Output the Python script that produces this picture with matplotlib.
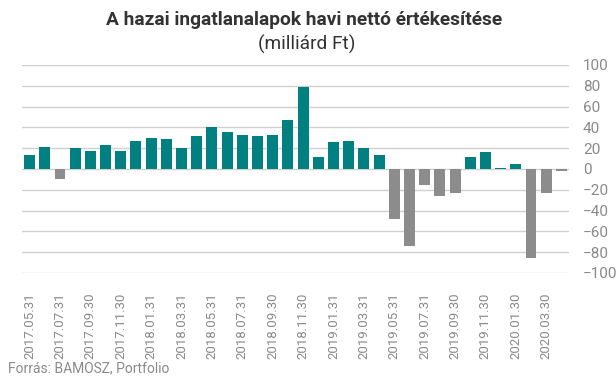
import matplotlib
matplotlib.use("Agg")
import matplotlib.pyplot as plt
import numpy as np

months = ["2017.05.31","2017.06.30","2017.07.31","2017.08.31","2017.09.30","2017.10.31","2017.11.30","2017.12.31",
          "2018.01.31","2018.02.28","2018.03.31","2018.04.30","2018.05.31","2018.06.30","2018.07.31","2018.08.31",
          "2018.09.30","2018.10.31","2018.11.30","2018.12.31","2019.01.31","2019.02.28","2019.03.31","2019.04.30",
          "2019.05.31","2019.06.30","2019.07.31","2019.08.31","2019.09.30","2019.10.31","2019.11.30","2019.12.31",
          "2020.01.30","2020.02.29","2020.03.30","2020.04.30"]
values = [13, 21, -10, 20, 17, 23, 17, 27, 30, 29, 20, 32, 40, 36, 33, 32, 33, 47, 79,
          12, 26, 27, 20, 13, -48, -74, -15, -26, -23, 12, 16, 0.5, 5, -86, -23, -2]

TEAL = "#008080"
GREY = "#8c8c8c"

plt.rcParams['font.family'] = ['Roboto', 'DejaVu Sans']

fig = plt.figure(figsize=(6.16, 3.78), dpi=100)
ax = fig.add_axes([22/616, 1-273/378, (569-22)/616, (273-65)/378])

x = np.arange(len(values))
colors = [TEAL if v >= 0 else GREY for v in values]
ax.bar(x, values, width=0.72, color=colors, zorder=3)

ax.set_ylim(-100, 100)
ax.set_xlim(-0.5, len(values) - 0.5)
ax.set_yticks(np.arange(-100, 101, 20))
ax.yaxis.tick_right()
ax.grid(axis='y', color='#d0d0d0', linewidth=1, zorder=0)
ax.tick_params(axis='y', length=0, labelsize=11, labelcolor='#8a8a8a', pad=10)
ax.set_xticks(x[::2])
ax.set_xticklabels(months[::2], rotation=90, fontsize=9.5, color='#8a8a8a')
ax.tick_params(axis='x', length=0, pad=14)
for s in ax.spines.values():
    s.set_visible(False)

fig.text(304/616, 1-20/378, "A hazai ingatlanalapok havi nettó értékesítése", ha='center', va='center',
         fontsize=13.8, fontweight='bold', color='#333333')
fig.text(307/616, 1-44/378, "(milliárd Ft)", ha='center', va='center', fontsize=13.8, color='#333333')
fig.text(8/616, 1-368/378, "Forrás: BAMOSZ, Portfolio", ha='left', va='center', fontsize=10, color='#8a8a8a')

fig.savefig("out.png", dpi=100)
